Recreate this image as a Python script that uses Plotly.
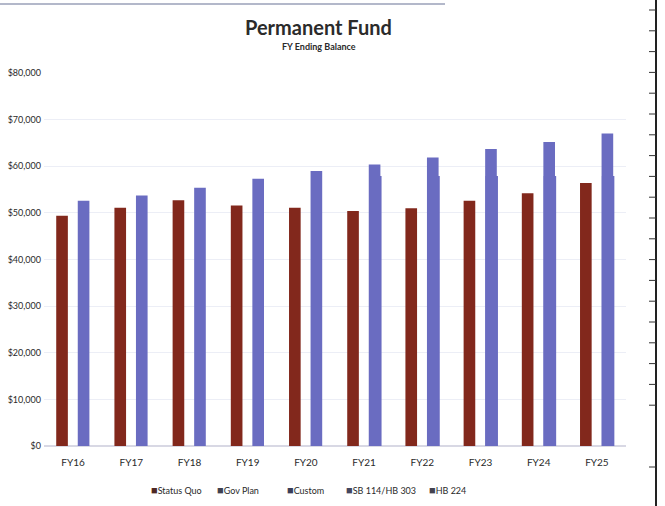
import plotly.graph_objects as go

years = ["FY16", "FY17", "FY18", "FY19", "FY20", "FY21", "FY22", "FY23", "FY24", "FY25"]

status_quo = [49400, 51100, 52700, 51600, 51100, 50400, 51000, 52600, 54200, 56400]
gov_plan = [None] * 10
custom = [None] * 10
sb114_hb303 = [52600, 53700, 55400, 57300, 59000, 60400, 61900, 63700, 65200, 67000]
hb224 = [None, None, None, None, None, 57900, 57900, 57900, 57900, 57900]

legend_names = ["Status Quo", "Gov Plan", "Custom", "SB 114/HB 303", "HB 224"]
legend_swatch = ["#4e2824", "#3f4150", "#3a3e58", "#44465f", "#434350"]
legend_left_px = [149, 215, 285, 344, 427]

RED = "#82281c"
BLUE = "#6a6cc1"

# plot area in pixels (used for placing text and the frame lines)
W, H = 665, 506
L, R, T, B = 44, 39, 73, 60
pw, ph = W - L - R, H - T - B


def px_x(x):
    return (x - L) / pw


def px_y(y):
    return (H - B - y) / ph


fig = go.Figure()
fig.add_trace(go.Bar(x=years, y=status_quo, name=legend_names[0],
                     marker_color=RED, offset=-0.29, width=0.2))
fig.add_trace(go.Bar(x=years, y=gov_plan, name=legend_names[1],
                     marker_color=legend_swatch[1], offset=-0.1, width=0.2))
fig.add_trace(go.Bar(x=years, y=custom, name=legend_names[2],
                     marker_color=legend_swatch[2], offset=-0.1, width=0.2))
fig.add_trace(go.Bar(x=years, y=hb224, name=legend_names[4],
                     marker_color=BLUE, offset=0.085, width=0.215))
fig.add_trace(go.Bar(x=years, y=sb114_hb303, name=legend_names[3],
                     marker_color=BLUE, offset=0.08, width=0.2))

fig.update_traces(marker_line_width=0, showlegend=False)

fig.update_layout(
    width=W,
    height=H,
    barmode="overlay",
    plot_bgcolor="white",
    paper_bgcolor="white",
    font=dict(family="Lato", color="#2a2a2a"),
    margin=dict(l=L, r=R, t=T, b=B, autoexpand=False),
    showlegend=False,
    xaxis=dict(
        range=[-0.5, 9.5],
        showgrid=False,
        showline=False,
        ticks="",
        automargin=False,
        ticklabelstandoff=9,
        tickfont=dict(size=10, color="#2a2a2a"),
    ),
    yaxis=dict(
        range=[0, 80000],
        dtick=10000,
        tickformat="$,d",
        showgrid=True,
        gridcolor="#eceef6",
        gridwidth=1,
        zeroline=True,
        zerolinecolor="#d8d8e4",
        showline=False,
        ticks="",
        automargin=False,
        ticklabelstandoff=2,
        tickfont=dict(size=9, color="#2a2a2a"),
    ),
)

fig.add_annotation(text="<b>Permanent Fund</b>", xref="paper", yref="paper",
                   x=px_x(318), y=px_y(27), showarrow=False,
                   xanchor="center", yanchor="middle",
                   font=dict(size=20, color="#2b2b2b"))
fig.add_annotation(text="<b>FY Ending Balance</b>", xref="paper", yref="paper",
                   x=px_x(319), y=px_y(47), showarrow=False,
                   xanchor="center", yanchor="middle",
                   font=dict(size=9, color="#2b2b2b"))

# compact legend row, as in the original
for name, col, xl in zip(legend_names, legend_swatch, legend_left_px):
    fig.add_annotation(
        text=f"<span style='color:{col};font-size:11px'>■</span>{name}",
        xref="paper", yref="paper", x=px_x(xl), y=px_y(489),
        showarrow=False, xanchor="left", yanchor="middle",
        font=dict(size=9, color="#2a2a2a"),
    )

shapes = [
    # thin line across the top left
    dict(type="line", xref="paper", yref="paper",
         x0=px_x(0), x1=px_x(445), y0=px_y(4), y1=px_y(4),
         line=dict(color="#9aa0b8", width=1.5)),
    # border on the right
    dict(type="line", xref="paper", yref="paper",
         x0=px_x(656), x1=px_x(656), y0=px_y(0), y1=px_y(506),
         line=dict(color="#222222", width=2)),
]
for k in range(20):
    yy = 10 + k * 20.8
    shapes.append(dict(type="line", xref="paper", yref="paper",
                       x0=px_x(649), x1=px_x(656), y0=px_y(yy), y1=px_y(yy),
                       line=dict(color="#333333", width=1)))
shapes.append(dict(type="line", xref="paper", yref="paper",
                   x0=px_x(649), x1=px_x(656), y0=px_y(467), y1=px_y(467),
                   line=dict(color="#333333", width=1)))
fig.update_layout(shapes=shapes)

fig.write_html("out.html", config={"displayModeBar": False},
               post_script="document.body.style.margin='0';")
